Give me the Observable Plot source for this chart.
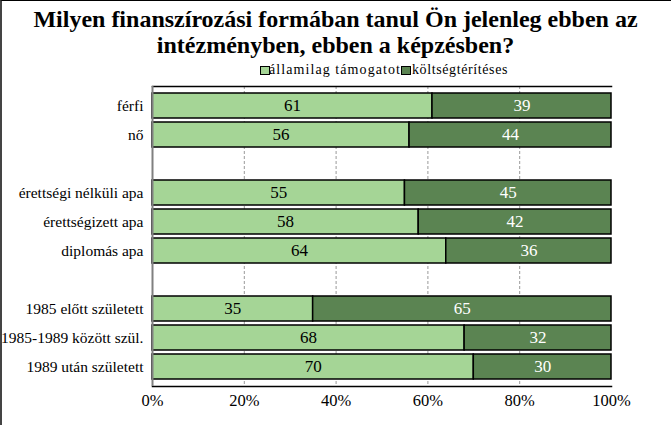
<!DOCTYPE html>
<html><head><meta charset="utf-8">
<script src="https://cdn.jsdelivr.net/npm/d3@7"></script>
<script src="https://cdn.jsdelivr.net/npm/@observablehq/plot@0.6"></script>
<style>
body{margin:0;background:#fff;}
#wrap{position:relative;width:671px;height:425px;overflow:hidden;font-family:"Liberation Serif","Tinos","Times New Roman",serif;background:#fff;color:#000}
#frame{position:absolute;left:0;top:0;width:671px;height:425px;box-sizing:border-box;border-top:1px solid #000;border-left:2px solid #444;pointer-events:none}
#title{position:absolute;top:6px;left:0;width:671px;text-align:center;font-weight:bold;font-size:24px;line-height:26px}
#legend{position:absolute;top:62px;left:0;width:671px;height:16px;font-size:14px;line-height:16px;white-space:nowrap}
#legend .sw{position:absolute;top:4px;width:8px;height:7px;border:1px solid #000}
#legend .tx{position:absolute;top:0}
#chart{position:absolute;top:80px;left:0}
</style></head>
<body>
<div id="wrap">
<div id="title">Milyen finanszírozási formában tanul Ön jelenleg ebben az<br>intézményben, ebben a képzésben?</div>
<div id="legend"></div>
<div id="chart"></div>
<div id="frame"></div>
</div>
<script>
const categories = ["férfi","nő"," ","érettségi nélküli apa","érettségizett apa","diplomás apa","  ","1985 előtt született","1985-1989 között szül.","1989 után született"];
const allamilag = [61,56,null,55,58,64,null,35,68,70];
const koltseg = [39,44,null,45,42,36,null,65,32,30];
const seriesNames = ["államilag támogatot","költségtérítéses"];
const colors = ["#a5d596","#5b8452"];
const xTicks = [0,20,40,60,80,100];
const FONT = '"Liberation Serif","Tinos","Times New Roman",serif';

// legend (swatch left, text left, text target width)
const legend = document.getElementById("legend");
const legendPos = [[260,269,132],[401,412,96]];
seriesNames.forEach((n,i)=>{
  const s=document.createElement("span");s.className="sw";s.style.background=colors[i];s.style.left=legendPos[i][0]+"px";
  const t=document.createElement("span");t.className="tx";t.textContent=n;t.style.left=legendPos[i][1]+"px";
  legend.appendChild(s);legend.appendChild(t);
  const w=t.getBoundingClientRect().width;
  t.style.letterSpacing=Math.max(0,(legendPos[i][2]-w)/n.length)+"px";
});

const rows = categories.map((c,i)=>({cat:c,a:allamilag[i],b:koltseg[i]})).filter(d=>d.a!=null);

const chart = Plot.plot({
  width:671, height:345,
  marginLeft:152, marginRight:60, marginTop:6, marginBottom:39,
  style:{fontFamily:FONT, color:"#000", background:"transparent"},
  x:{domain:[0,100]},
  y:{domain:categories, paddingInner:0.133, paddingOuter:0.067},
  marks:[
    Plot.ruleX([20,40,60,80],{stroke:"#999",strokeDasharray:"3,2",strokeWidth:1}),
    Plot.frame({anchor:"top",stroke:"#000",strokeWidth:1.5}),
    Plot.frame({anchor:"bottom",stroke:"#000",strokeWidth:1.5}),
    Plot.barX(rows,{y:"cat",x1:0,x2:"a",fill:colors[0],stroke:"#000",strokeWidth:1.5}),
    Plot.barX(rows,{y:"cat",x1:"a",x2:d=>d.a+d.b,fill:colors[1],stroke:"#000",strokeWidth:1.5}),
    Plot.text(rows,{y:"cat",x:d=>d.a/2,text:d=>String(d.a),fill:"#000",fontSize:17,fontFamily:FONT}),
    Plot.text(rows,{y:"cat",x:d=>d.a+d.b/2,text:d=>String(d.b),fill:"#fff",fontSize:17,fontFamily:FONT}),
    Plot.ruleX([0],{stroke:"#808080",strokeWidth:2}),
    Plot.axisX({ticks:xTicks,tickFormat:d=>d+"%",tickSize:0,tickPadding:8,fontSize:16.5,fontFamily:FONT,label:null}),
    Plot.axisY({tickSize:0,tickPadding:9,fontSize:15.5,fontFamily:FONT,label:null,tickFormat:d=>d.trim()})
  ]
});
document.getElementById("chart").appendChild(chart);
</script>
</body></html>
